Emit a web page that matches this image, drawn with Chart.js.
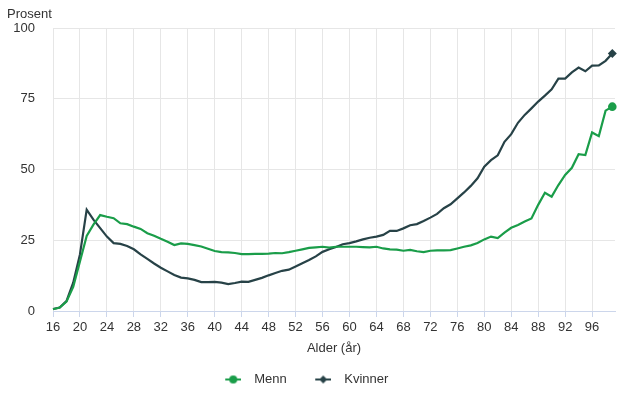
<!DOCTYPE html>
<html>
<head>
<meta charset="utf-8">
<script src="https://cdn.jsdelivr.net/npm/chart.js@4/dist/chart.umd.min.js"></script>
<style>
html,body{margin:0;padding:0;background:#fff;}
#wrap{width:628px;height:396px;}
</style>
</head>
<body>
<div id="wrap"><canvas id="c" width="628" height="396"></canvas></div>
<script>
// Categories: age in years
const ages = [16,17,18,19,20,21,22,23,24,25,26,27,28,29,30,31,32,33,34,35,36,37,38,39,40,41,42,43,44,45,46,47,48,49,50,51,52,53,54,55,56,57,58,59,60,61,62,63,64,65,66,67,68,69,70,71,72,73,74,75,76,77,78,79,80,81,82,83,84,85,86,87,88,89,90,91,92,93,94,95,96,97,98,99];

// Series values (percent)
const menn = [0.6,1.2,3.3,8.5,17.5,26.5,30.5,33.9,33.3,32.8,31.0,30.7,29.8,29.0,27.5,26.6,25.5,24.5,23.3,23.9,23.7,23.3,22.8,22.0,21.2,20.8,20.7,20.5,20.1,20.1,20.2,20.2,20.3,20.5,20.4,20.8,21.3,21.8,22.3,22.5,22.7,22.4,22.7,22.7,22.7,22.7,22.6,22.5,22.7,22.1,21.8,21.7,21.3,21.6,21.1,20.8,21.3,21.4,21.4,21.5,22.1,22.7,23.2,24.0,25.3,26.3,25.8,27.7,29.4,30.4,31.6,32.7,37.5,41.8,40.4,44.5,48.1,50.6,55.4,55.1,63.1,61.8,70.8,72.2];
const kvinner = [0.7,1.2,3.5,10.0,20.0,35.8,32.3,29.3,26.3,24.0,23.7,23.0,21.8,20.0,18.4,16.8,15.3,14.0,12.7,11.8,11.5,11.0,10.2,10.2,10.3,10.0,9.5,9.9,10.4,10.3,11.0,11.7,12.6,13.4,14.2,14.6,15.7,16.9,18.0,19.3,20.9,21.8,22.6,23.6,24.0,24.6,25.3,25.9,26.3,26.9,28.3,28.3,29.2,30.3,30.7,31.8,33.0,34.3,36.3,37.7,39.8,41.9,44.2,46.9,51.0,53.3,55.0,59.8,62.5,66.5,69.3,71.6,74.0,76.1,78.3,82.1,82.1,84.3,86.0,84.7,86.7,86.8,88.4,91.0];

// Tick labels
const xTicks = [16,20,24,28,32,36,40,44,48,52,56,60,64,68,72,76,80,84,88,92,96];
const yTicks = [0,25,50,75,100];

const seriesNames = ['Menn','Kvinner'];
const xTitle = 'Alder (år)';
const yTitle = 'Prosent';

const GREEN = '#1a9d49';
const DARK = '#274247';
const TEXT = '#333333';
const FONT = '"Liberation Sans", Arial, Helvetica, sans-serif';

Chart.defaults.font.family = FONT;
Chart.defaults.font.size = 13;
Chart.defaults.color = TEXT;

function makeMarker(color, shape) {
  const c = document.createElement('canvas');
  c.width = 28; c.height = 10;
  const g = c.getContext('2d');
  g.strokeStyle = color; g.lineWidth = 2;
  g.beginPath(); g.moveTo(12, 5); g.lineTo(28, 5); g.stroke();
  g.fillStyle = color;
  g.beginPath();
  if (shape === 'circle') {
    g.arc(20, 5, 4, 0, Math.PI * 2);
  } else {
    g.moveTo(20, 1); g.lineTo(24, 5); g.lineTo(20, 9); g.lineTo(16, 5); g.closePath();
  }
  g.fill();
  return c;
}
const legendMarkers = [makeMarker(GREEN, 'circle'), makeMarker(DARK, 'diamond')];

function toPoints(vals) { return ages.map((a, i) => ({x: a, y: vals[i]})); }
function lastOnly(r) { return (ctx) => ctx.dataIndex === ctx.dataset.data.length - 1 ? r : 0; }

const shiftLegend = {
  id: 'shiftLegend',
  afterLayout(chart) {
    if (chart.legend) { chart.legend.left -= 13.5; chart.legend.right -= 13.5; }
  }
};

new Chart(document.getElementById('c'), {
  type: 'line',
  data: {
    datasets: [
      {
        label: seriesNames[0],
        data: toPoints(menn),
        borderColor: GREEN,
        backgroundColor: GREEN,
        borderWidth: 2.2,
        tension: 0,
        clip: false,
        pointStyle: 'circle',
        pointRadius: lastOnly(4.3),
        pointHoverRadius: lastOnly(4.3),
        pointBorderWidth: 0
      },
      {
        label: seriesNames[1],
        data: toPoints(kvinner),
        borderColor: DARK,
        backgroundColor: DARK,
        borderWidth: 2.2,
        tension: 0,
        clip: false,
        pointStyle: 'rectRot',
        pointRadius: lastOnly(4.5),
        pointHoverRadius: lastOnly(4.5),
        pointBorderWidth: 0
      }
    ]
  },
  options: {
    responsive: false,
    animation: false,
    devicePixelRatio: 1,
    layout: { padding: { left: 7, right: 13, top: 0, bottom: 0 } },
    scales: {
      x: {
        type: 'linear',
        min: 16,
        max: 99.4,
        afterBuildTicks: (s) => { s.ticks = xTicks.map(v => ({value: v})); },
        afterFit: (s) => { s.height = 52; },
        ticks: { color: TEXT, padding: 3, maxRotation: 0, autoSkip: false, font: {size: 13} },
        grid: { color: '#e6e6e6', tickColor: '#ccd6eb', tickLength: 6, drawTicks: true },
        border: { display: true, color: '#ccd6eb', width: 1 },
        title: { display: true, text: xTitle, color: TEXT, font: {size: 13}, padding: {top: 4, bottom: 7} }
      },
      y: {
        min: 0,
        max: 100,
        afterBuildTicks: (s) => { s.ticks = yTicks.map(v => ({value: v})); },
        afterFit: (s) => { s.width = 46; },
        ticks: { color: TEXT, padding: 18, font: {size: 13} },
        grid: { color: '#e6e6e6', drawTicks: false },
        border: { display: false }
      }
    },
    plugins: {
      title: {
        display: true,
        text: yTitle,
        align: 'start',
        color: TEXT,
        font: { size: 13, weight: 'normal' },
        padding: { top: 7, bottom: 5.4 }
      },
      legend: {
        position: 'bottom',
        labels: {
          usePointStyle: true,
          pointStyleWidth: 41,
          padding: 10,
          color: TEXT,
          font: { size: 13 },
          generateLabels(chart) {
            const items = Chart.defaults.plugins.legend.labels.generateLabels(chart);
            items.forEach((it, i) => { it.pointStyle = legendMarkers[i]; });
            return items;
          }
        }
      },
      tooltip: { enabled: false }
    }
  },
  plugins: [shiftLegend]
});
</script>
</body>
</html>
